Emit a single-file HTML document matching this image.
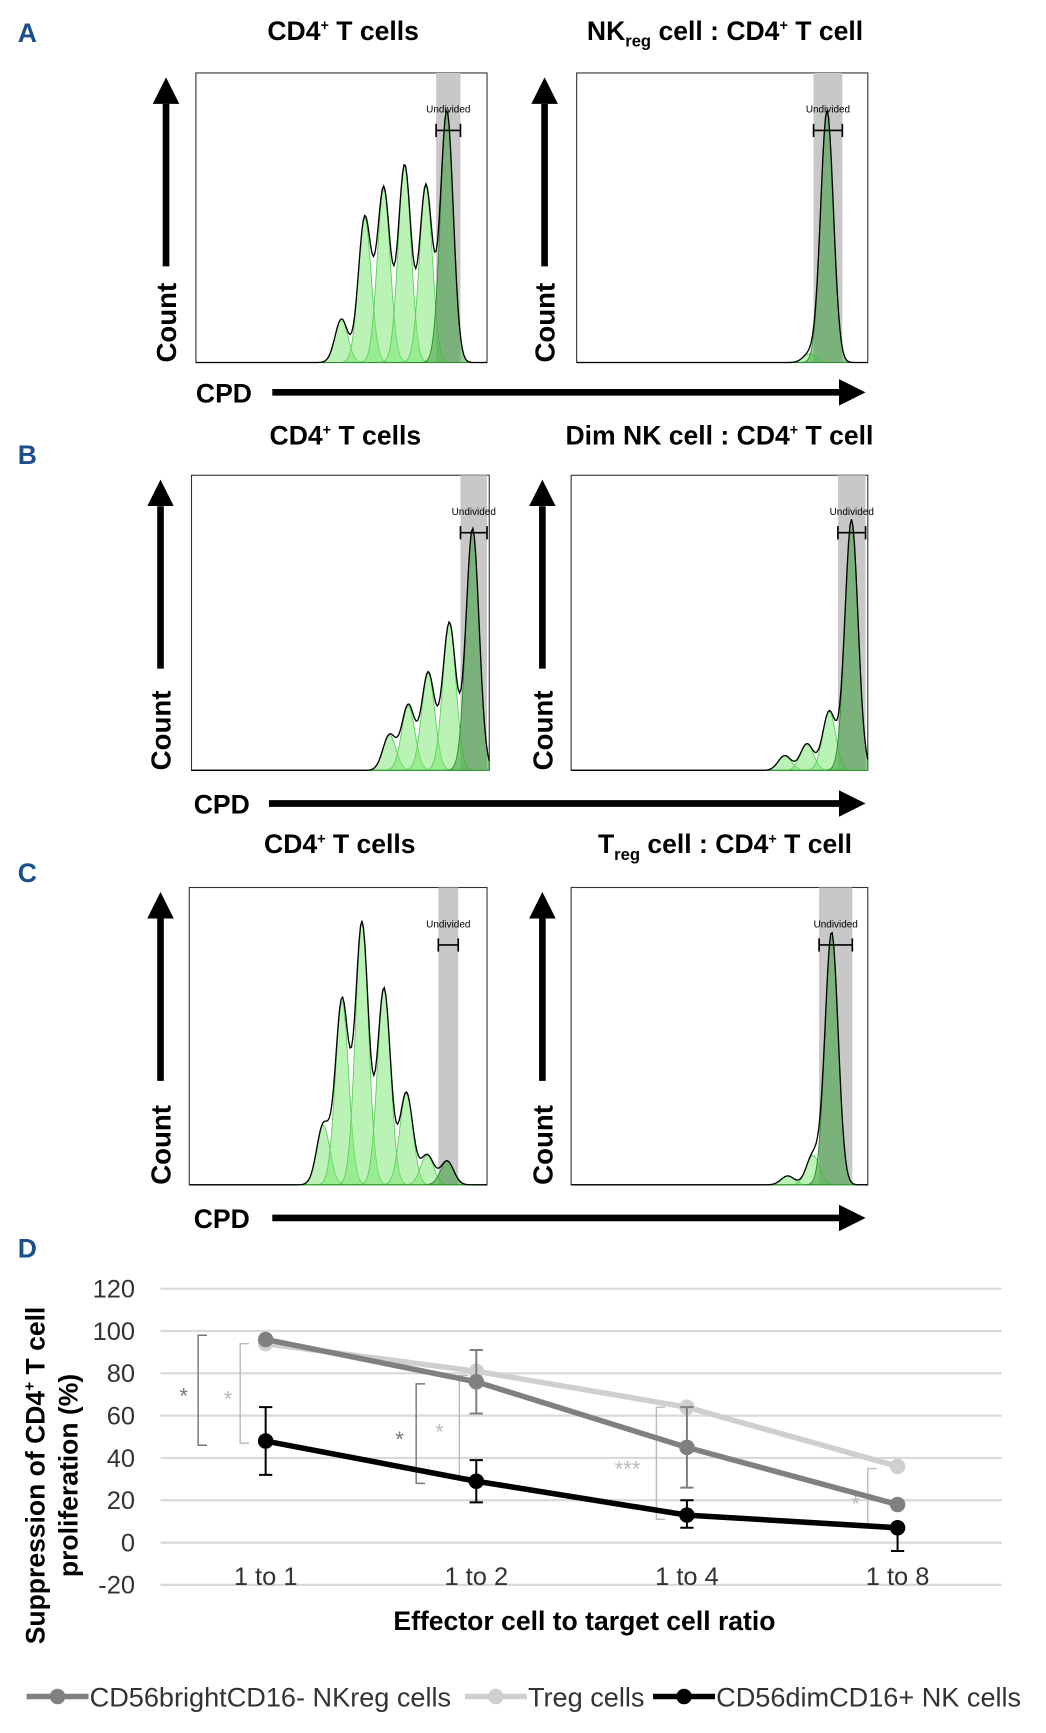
<!DOCTYPE html>
<html><head><meta charset="utf-8">
<style>
html,body{margin:0;padding:0;background:#fff;}
svg{display:block;}
text{font-family:"Liberation Sans",Arial,sans-serif;}
</style></head>
<body>
<svg id="fig" width="1046" height="1733" viewBox="0 0 945 1568" preserveAspectRatio="none" xmlns="http://www.w3.org/2000/svg">
<defs>
<marker id="ah" markerWidth="4" markerHeight="4" refX="0" refY="2" orient="auto" markerUnits="strokeWidth"><path d="M0,0 L4,2 L0,4 z" fill="#000"/></marker>
</defs>
</svg>
<script>
// ===== Panel D data =====
const categories = ["1 to 1","1 to 2","1 to 4","1 to 8"];
const yTicks = [120,100,80,60,40,20,0,-20];
const nkregValues = [96,76,45,18];
const nkregErrLo = [96,61,26,18];
const nkregErrHi = [96,91,64,18];
const tregValues = [94,81,64,36];
const tregErrLo = [94,81,64,36];
const tregErrHi = [94,91,64,36];
const nkdimValues = [48,29,13,7];
const nkdimErrLo = [32,19,7,-4];
const nkdimErrHi = [64,39,20,7];

// ===== Histogram data (peak position as fraction of x-axis, relative height) =====
const histA1Pos = [0.50,0.58,0.645,0.717,0.79,0.862];
const histA1H = [0.15,0.50,0.60,0.68,0.61,0.87];
const histA2Pos = [0.80,0.86];
const histA2H = [0.03,0.87];
const histB1Pos = [0.665,0.728,0.795,0.866,0.944];
const histB1H = [0.12,0.22,0.33,0.50,0.82];
const histB2Pos = [0.72,0.795,0.87,0.945];
const histB2H = [0.05,0.09,0.20,0.85];
const histC1Pos = [0.45,0.513,0.58,0.654,0.729,0.799,0.866];
const histC1H = [0.20,0.62,0.88,0.66,0.31,0.10,0.08];
const histC2Pos = [0.73,0.815,0.878];
const histC2H = [0.03,0.10,0.85];

const NS="http://www.w3.org/2000/svg";
const svg=document.getElementById('fig');
function el(tag,attrs,parent,txt){const e=document.createElementNS(NS,tag);for(const k in attrs)e.setAttribute(k,attrs[k]);if(txt!==undefined)e.textContent=txt;(parent||svg).appendChild(e);return e;}

[["A",30],["B",412],["C",790],["D",1130]].forEach(([t,y])=>{
  const e=el('text',{x:16,y:y+8,'font-size':24,'font-weight':'bold',fill:'#1a4f8a'},svg,t);
  
  
});

function title(x,y,html,name){
  const t=el('text',{x:x,y:y,'font-size':24,'font-weight':'bold','text-anchor':'middle'});
  t.innerHTML=html;
  
  
}
title(310,36,'CD4<tspan dy="-9" font-size="13">+</tspan><tspan dy="9"> T cells</tspan>','title-a-left');
title(655,36,'NK<tspan dy="6" font-size="15">reg</tspan><tspan dy="-6"> cell : CD4</tspan><tspan dy="-9" font-size="13">+</tspan><tspan dy="9"> T cell</tspan>','title-a-right');
title(312,402,'CD4<tspan dy="-9" font-size="13">+</tspan><tspan dy="9"> T cells</tspan>','title-b-left');
title(650,402,'Dim NK cell : CD4<tspan dy="-9" font-size="13">+</tspan><tspan dy="9"> T cell</tspan>','title-b-right');
title(307,772,'CD4<tspan dy="-9" font-size="13">+</tspan><tspan dy="9"> T cells</tspan>','title-c-left');
title(655,772,'T<tspan dy="6" font-size="15">reg</tspan><tspan dy="-6"> cell : CD4</tspan><tspan dy="-9" font-size="13">+</tspan><tspan dy="9"> T cell</tspan>','title-c-right');

function hist(x0,y0,x1,y1,pos,h,bandL,bandR,name,arrowX){
  const g=el('g',{});
  
  
  const W=x1-x0,H=y1-y0;
  el('rect',{x:x0,y:y0,width:W,height:H,fill:'#fff',stroke:'#333','stroke-width':1},g);
  el('rect',{x:bandL,y:y0,width:bandR-bandL,height:H,fill:'#c8c8c8'},g);
  const sig=W*0.022;
  const N=200;
  const sum=new Array(N+1).fill(0);
  pos.forEach((p,i)=>{
    const cx=x0+p*W;let d=`M${x0},${y1}`;
    for(let k=0;k<=N;k++){const x=x0+W*k/N;const v=h[i]*Math.exp(-((x-cx)**2)/(2*sig*sig));sum[k]+=v;d+=` L${x},${y1-v*H}`;}
    d+=` L${x1},${y1} Z`;
    const last=i===pos.length-1;
    const p_=el('path',{d:d,fill:last?'rgba(60,160,60,0.55)':'rgba(120,230,110,0.5)',stroke:last?'#2a8a2a':'#5ad05a','stroke-width':0.8},g);
    
    
  });
  let d=`M${x0},${y1}`;
  for(let k=0;k<=N;k++){const x=x0+W*k/N;d+=` L${x},${y1-Math.min(sum[k],0.98)*H}`;}
  el('path',{d:d,fill:'none',stroke:'#000','stroke-width':1.2},g);
  const bc=(bandL+bandR)/2;
  el('text',{x:bc,y:y0+36,'font-size':9,'text-anchor':'middle'},g,'Undivided');
  el('line',{x1:bandL,y1:y0+52,x2:bandR,y2:y0+52,stroke:'#000','stroke-width':1.5},g);
  el('line',{x1:bandL,y1:y0+46,x2:bandL,y2:y0+58,stroke:'#000','stroke-width':1.5},g);
  el('line',{x1:bandR,y1:y0+46,x2:bandR,y2:y0+58,stroke:'#000','stroke-width':1.5},g);
  const a=el('line',{x1:arrowX,y1:y0+175,x2:arrowX,y2:y0+28,stroke:'#000','stroke-width':6,'marker-end':'url(#ah)'});
  
  
  const t=el('text',{x:arrowX+9,y:y1,'font-size':25,'font-weight':'bold',transform:`rotate(-90 ${arrowX+9} ${y1})`},svg,'Count');
  
  
}
hist(177,66,440,328,histA1Pos,histA1H,394,416,'histogram-a-left',150);
hist(521,66,784,328,histA2Pos,histA2H,735,761,'histogram-a-right',492);
hist(173,430,442,697,histB1Pos,histB1H,416,440,'histogram-b-left',145);
hist(516,430,784,697,histB2Pos,histB2H,757,782,'histogram-b-right',490);
hist(171,803,440,1072,histC1Pos,histC1H,396,414,'histogram-c-left',145);
hist(516,803,784,1072,histC2Pos,histC2H,740,770,'histogram-c-right',490);

[[177,355,246],[175,727,243],[175,1102,246]].forEach(([x,y,ax])=>{
  const t=el('text',{x:x,y:y+9,'font-size':24,'font-weight':'bold'},svg,'CPD');
  
  
  const a=el('line',{x1:ax,y1:y,x2:758,y2:y,stroke:'#000','stroke-width':6,'marker-end':'url(#ah)'});
  
  
});

// ===== Panel D chart =====
const X0=145,X1=905,Ytop=1166,Ybot=1434,ymin=-20,ymax=120;
const yS=v=>Ybot-(v-ymin)/(ymax-ymin)*(Ybot-Ytop);
const xS=i=>240+i*190.3;
const chart=el('g',{});


yTicks.forEach(t=>{
  const l=el('line',{x1:X0,x2:X1,y1:yS(t),y2:yS(t),stroke:'#d9d9d9','stroke-width':2},chart);
  
  
  const tx=el('text',{x:122,y:yS(t)+8,'font-size':23,'text-anchor':'end',fill:'#333'},chart,String(t));
  
  
});
categories.forEach((c,i)=>{
  const tx=el('text',{x:xS(i),y:1434,'font-size':23,'text-anchor':'middle',fill:'#333'},chart,c);
  
  
});
const xt=el('text',{x:528,y:1475,'font-size':24,'font-weight':'bold','text-anchor':'middle'},chart,'Effector cell to target cell ratio');


const yt=el('text',{x:0,y:0,'font-size':24,'font-weight':'bold','text-anchor':'middle',transform:'translate(40 1335) rotate(-90)'},chart);
yt.innerHTML='Suppression of CD4<tspan dy="-9" font-size="14">+</tspan><tspan dy="9"> T cell</tspan>';


const yt2=el('text',{x:0,y:0,'font-size':24,'font-weight':'bold','text-anchor':'middle',transform:'translate(70 1335) rotate(-90)'},chart,'proliferation (%)');



function bracket(x,v1,v2,color,star,sx){
  const g=el('g',{},chart);
  
  
  el('path',{d:`M${x+8},${yS(v1)} H${x} V${yS(v2)} H${x+8}`,fill:'none',stroke:color,'stroke-width':1.3},g);
  el('text',{x:sx,y:(yS(v1)+yS(v2))/2+12,'font-size':20,fill:color,'text-anchor':'middle'},g,star);
}
bracket(179,98,46,'#777','*',166);
bracket(217,94,47,'#bbb','*',206);
bracket(376,75,28,'#777','*',361);
bracket(415,79,31,'#bbb','*',397);
bracket(593,64,11,'#bbb','***',567);
bracket(784,35,7,'#bbb','*',773);

function series(vals,lo,hi,color,w,name){
  const g=el('g',{},chart);
  
  
  vals.forEach((v,i)=>{
    if(hi[i]!==lo[i]){
      const e=el('path',{d:`M${xS(i)},${yS(lo[i])} V${yS(hi[i])} M${xS(i)-6},${yS(lo[i])} H${xS(i)+6} M${xS(i)-6},${yS(hi[i])} H${xS(i)+6}`,stroke:color,'stroke-width':1.8,fill:'none'},g);
      
      
    }
  });
  el('polyline',{points:vals.map((v,i)=>`${xS(i)},${yS(v)}`).join(' '),fill:'none',stroke:color,'stroke-width':w},g);
  vals.forEach((v,i)=>{
    const c=el('circle',{cx:xS(i),cy:yS(v),r:7,fill:color},g);
    
    
  });
}
series(tregValues,tregErrLo,tregErrHi,'#cfcfcf',5,'series-treg');
series(nkregValues,nkregErrLo,nkregErrHi,'#808080',5,'series-nkreg');
series(nkdimValues,nkdimErrLo,nkdimErrHi,'#000',5,'series-nkdim');

[[24,'#808080','CD56brightCD16- NKreg cells'],[420,'#cfcfcf','Treg cells'],[590,'#000','CD56dimCD16+ NK cells']].forEach(([x,c,t])=>{
  const g=el('g',{},chart);
  
  
  el('line',{x1:x,x2:x+56,y1:1535,y2:1535,stroke:c,'stroke-width':5},g);
  el('circle',{cx:x+28,cy:1535,r:7,fill:c},g);
  el('text',{x:x+57,y:1544,'font-size':24.5,fill:'#333'},g,t);
});
</script>
</body></html>
